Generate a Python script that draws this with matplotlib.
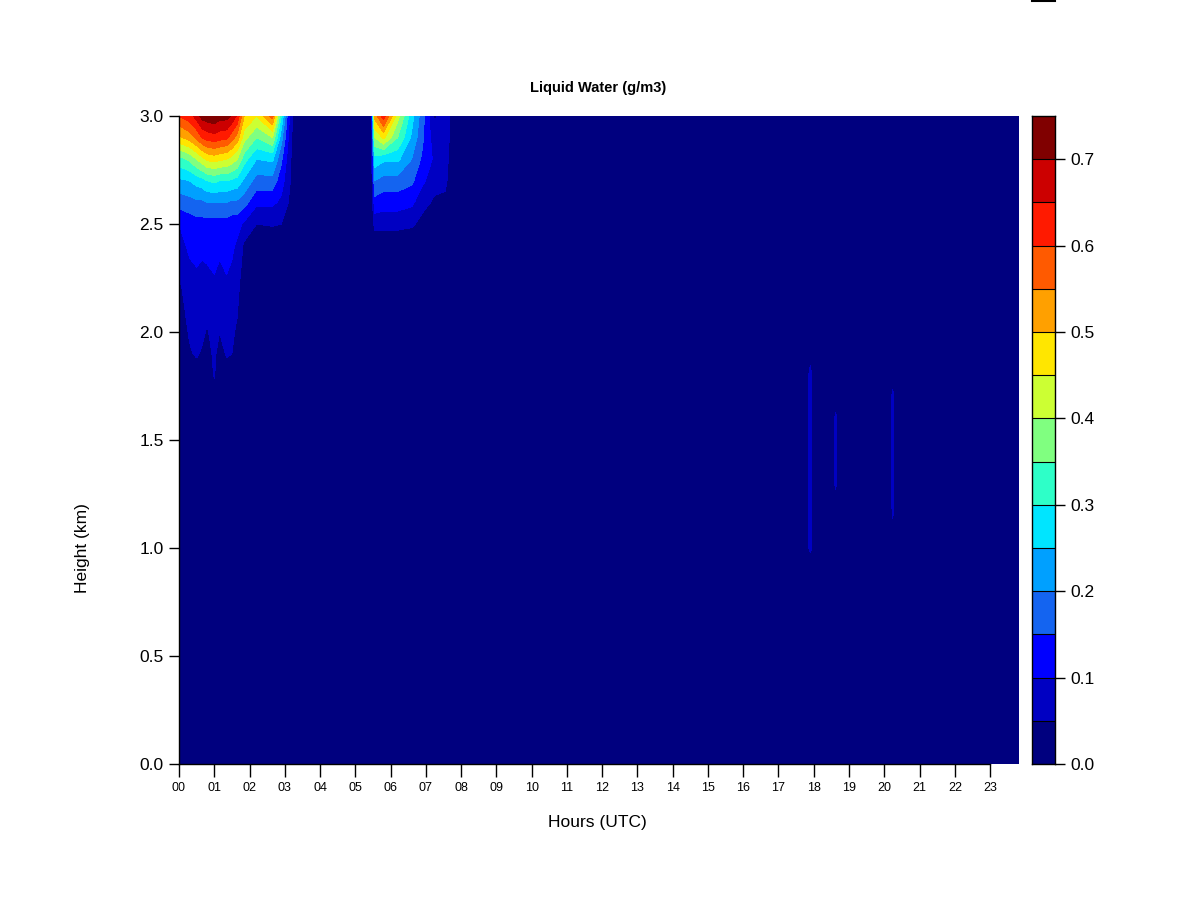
import numpy as np
import matplotlib
matplotlib.use("Agg")
import matplotlib.pyplot as plt
from matplotlib.colors import ListedColormap, BoundaryNorm
from matplotlib.lines import Line2D

plt.rcParams["font.family"] = ["Liberation Sans", "DejaVu Sans"]

# heights of the profile samples (km)
heights_km = [0.0, 0.95, 1.0, 1.2, 1.3, 1.6, 1.7, 1.8, 1.9,
              2.0, 2.2, 2.4, 2.5, 2.6, 2.7, 2.8, 2.9, 3.0]

# time of each profile (hours UTC)
hours = [0.0, 0.3, 0.5, 0.65, 0.8, 1.0, 1.15, 1.35, 1.5, 1.65, 1.85,
         2.2, 2.65, 2.9, 3.1, 3.3,
         5.45, 5.55, 5.8, 6.2, 6.6, 6.9, 7.25, 7.55, 7.85,
         17.8, 17.9, 18.0, 18.52, 18.62, 18.72, 20.15, 20.24, 20.33, 23.82]

# liquid water content (g/m3), one row per time, one column per height
lwc = [
    [0, 0, 0, 0, 0, 0, 0, 0, 0, 0.02, 0.04, 0.08, 0.10, 0.17, 0.24, 0.33, 0.49, 0.60],
    [0, 0, 0, 0, 0, 0, 0, 0, 0.045, 0.055, 0.075, 0.11, 0.12, 0.18, 0.25, 0.36, 0.52, 0.63],
    [0, 0, 0, 0, 0, 0, 0, 0.03, 0.055, 0.06, 0.085, 0.115, 0.13, 0.19, 0.27, 0.40, 0.56, 0.67],
    [0, 0, 0, 0, 0, 0, 0, 0.02, 0.045, 0.06, 0.08, 0.11, 0.13, 0.19, 0.28, 0.43, 0.60, 0.72],
    [0, 0, 0, 0, 0, 0, 0, 0, 0.03, 0.045, 0.08, 0.115, 0.13, 0.20, 0.30, 0.46, 0.62, 0.73],
    [0, 0, 0, 0, 0, 0, 0.02, 0.055, 0.06, 0.07, 0.09, 0.12, 0.13, 0.20, 0.31, 0.47, 0.63, 0.74],
    [0, 0, 0, 0, 0, 0, 0, 0, 0.03, 0.05, 0.08, 0.11, 0.13, 0.20, 0.30, 0.46, 0.62, 0.72],
    [0, 0, 0, 0, 0, 0, 0, 0.03, 0.055, 0.065, 0.09, 0.12, 0.13, 0.20, 0.30, 0.45, 0.61, 0.72],
    [0, 0, 0, 0, 0, 0, 0, 0.01, 0.05, 0.06, 0.08, 0.11, 0.12, 0.19, 0.29, 0.43, 0.57, 0.69],
    [0, 0, 0, 0, 0, 0, 0, 0, 0.02, 0.04, 0.07, 0.09, 0.12, 0.19, 0.28, 0.40, 0.53, 0.64],
    [0, 0, 0, 0, 0, 0, 0, 0, 0, 0, 0, 0.04, 0.09, 0.17, 0.24, 0.32, 0.42, 0.50],
    [0, 0, 0, 0, 0, 0, 0, 0, 0, 0, 0, 0.01, 0.05, 0.11, 0.18, 0.25, 0.35, 0.45],
    [0, 0, 0, 0, 0, 0, 0, 0, 0, 0, 0, 0.01, 0.055, 0.11, 0.18, 0.26, 0.40, 0.57],
    [0, 0, 0, 0, 0, 0, 0, 0, 0, 0, 0, 0, 0.05, 0.09, 0.12, 0.16, 0.22, 0.30],
    [0, 0, 0, 0, 0, 0, 0, 0, 0, 0, 0, 0, 0.03, 0.05, 0.07, 0.08, 0.10, 0.12],
    [0, 0, 0, 0, 0, 0, 0, 0, 0, 0, 0, 0, 0, 0, 0, 0, 0, 0],
    [0, 0, 0, 0, 0, 0, 0, 0, 0, 0, 0, 0, 0, 0, 0, 0, 0, 0],
    [0, 0, 0, 0, 0, 0, 0, 0, 0, 0, 0, 0, 0.07, 0.13, 0.20, 0.28, 0.40, 0.52],
    [0, 0, 0, 0, 0, 0, 0, 0, 0, 0, 0, 0, 0.07, 0.12, 0.18, 0.26, 0.46, 0.63],
    [0, 0, 0, 0, 0, 0, 0, 0, 0, 0, 0, 0, 0.07, 0.12, 0.18, 0.26, 0.35, 0.42],
    [0, 0, 0, 0, 0, 0, 0, 0, 0, 0, 0, 0, 0.06, 0.11, 0.16, 0.20, 0.24, 0.27],
    [0, 0, 0, 0, 0, 0, 0, 0, 0, 0, 0, 0, 0.03, 0.07, 0.11, 0.14, 0.16, 0.17],
    [0, 0, 0, 0, 0, 0, 0, 0, 0, 0, 0, 0, 0, 0.04, 0.07, 0.09, 0.07, 0.04],
    [0, 0, 0, 0, 0, 0, 0, 0, 0, 0, 0, 0, 0, 0.04, 0.06, 0.07, 0.08, 0.09],
    [0, 0, 0, 0, 0, 0, 0, 0, 0, 0, 0, 0, 0, 0, 0, 0, 0, 0],
    [0, 0, 0, 0, 0, 0, 0, 0, 0, 0, 0, 0, 0, 0, 0, 0, 0, 0],
    [0, 0, 0.09, 0.09, 0.09, 0.09, 0.09, 0.09, 0, 0, 0, 0, 0, 0, 0, 0, 0, 0],
    [0, 0, 0, 0, 0, 0, 0, 0, 0, 0, 0, 0, 0, 0, 0, 0, 0, 0],
    [0, 0, 0, 0, 0, 0, 0, 0, 0, 0, 0, 0, 0, 0, 0, 0, 0, 0],
    [0, 0, 0, 0, 0.07, 0.07, 0, 0, 0, 0, 0, 0, 0, 0, 0, 0, 0, 0],
    [0, 0, 0, 0, 0, 0, 0, 0, 0, 0, 0, 0, 0, 0, 0, 0, 0, 0],
    [0, 0, 0, 0, 0, 0, 0, 0, 0, 0, 0, 0, 0, 0, 0, 0, 0, 0],
    [0, 0, 0, 0.075, 0.075, 0.075, 0.075, 0, 0, 0, 0, 0, 0, 0, 0, 0, 0, 0],
    [0, 0, 0, 0, 0, 0, 0, 0, 0, 0, 0, 0, 0, 0, 0, 0, 0, 0],
    [0, 0, 0, 0, 0, 0, 0, 0, 0, 0, 0, 0, 0, 0, 0, 0, 0, 0],
]

levels = [0.0, 0.05, 0.1, 0.15, 0.2, 0.25, 0.3, 0.35, 0.4, 0.45,
          0.5, 0.55, 0.6, 0.65, 0.7, 0.75]
level_colors = ["#00007F", "#0000C2", "#0000FF", "#1464F0", "#00A0FF",
                "#00E5FF", "#2EFFC8", "#80FF80", "#CCFF33", "#FFE600",
                "#FFA000", "#FF5A00", "#FF1A00", "#CC0000", "#800000"]
hour_ticks = list(range(24))
height_ticks = [0.0, 0.5, 1.0, 1.5, 2.0, 2.5, 3.0]
key_ticks = [0.0, 0.1, 0.2, 0.3, 0.4, 0.5, 0.6, 0.7]

cmap = ListedColormap(level_colors)
norm = BoundaryNorm(levels, cmap.N)

fig = plt.figure(figsize=(12, 9), dpi=100)
ax = fig.add_axes([179 / 1200, 1 - 764 / 900, 840 / 1200, 648 / 900])
cax = fig.add_axes([1032 / 1200, 1 - 764 / 900, 23 / 1200, 648 / 900])

z = np.array(lwc).T
ax.set_facecolor(level_colors[0])
ax.contourf(hours, heights_km, z, levels=levels, cmap=cmap, norm=norm)
ax.set_xlim(hours[0], hours[-1])
ax.set_ylim(0, 3)

for side in ["top", "right"]:
    ax.spines[side].set_visible(False)
ax.spines["left"].set_linewidth(1.0)
ax.spines["bottom"].set_linewidth(1.0)
ax.spines["bottom"].set_bounds(0, 23)

ax.set_xticks(hour_ticks)
ax.set_xticklabels([f"{h:02d}" for h in hour_ticks], fontsize=9)
ax.set_yticks(height_ticks)
ax.set_yticklabels([f"{v:.1f}" for v in height_ticks], fontsize=12.5)
ax.tick_params(axis="x", length=9, width=1, pad=4, color="black")
ax.tick_params(axis="y", length=7, width=1, pad=4, color="black")

fig.text(598 / 1200, 1 - 88 / 900, "Liquid Water (g/m3)", ha="center",
         va="center", fontsize=10.5, fontweight="bold")
fig.text(597 / 1200, 1 - 823 / 900, "Hours (UTC)", ha="center",
         va="center", fontsize=12.5)
fig.text(83 / 1200, 1 - 548 / 900, "Height (km)", ha="center",
         va="center", fontsize=12.5, rotation=90)

# colour key
for i, c in enumerate(level_colors):
    cax.axhspan(levels[i], levels[i + 1], color=c, lw=0)
    cax.axhline(levels[i], color="black", lw=0.8)
cax.set_xlim(0, 1)
cax.set_ylim(levels[0], levels[-1])
cax.set_xticks([])
cax.yaxis.tick_right()
cax.set_yticks(key_ticks)
cax.set_yticklabels([f"{v:.1f}" for v in key_ticks], fontsize=12.5)
cax.tick_params(axis="y", length=7, width=1, pad=4)
for sp in cax.spines.values():
    sp.set_linewidth(1.0)

# stray mark at the top edge of the original image
fig.add_artist(Line2D([1032 / 1200, 1055 / 1200], [0.999, 0.999],
                      transform=fig.transFigure, color="black", lw=1.5))

fig.savefig("out.png", dpi=100)
